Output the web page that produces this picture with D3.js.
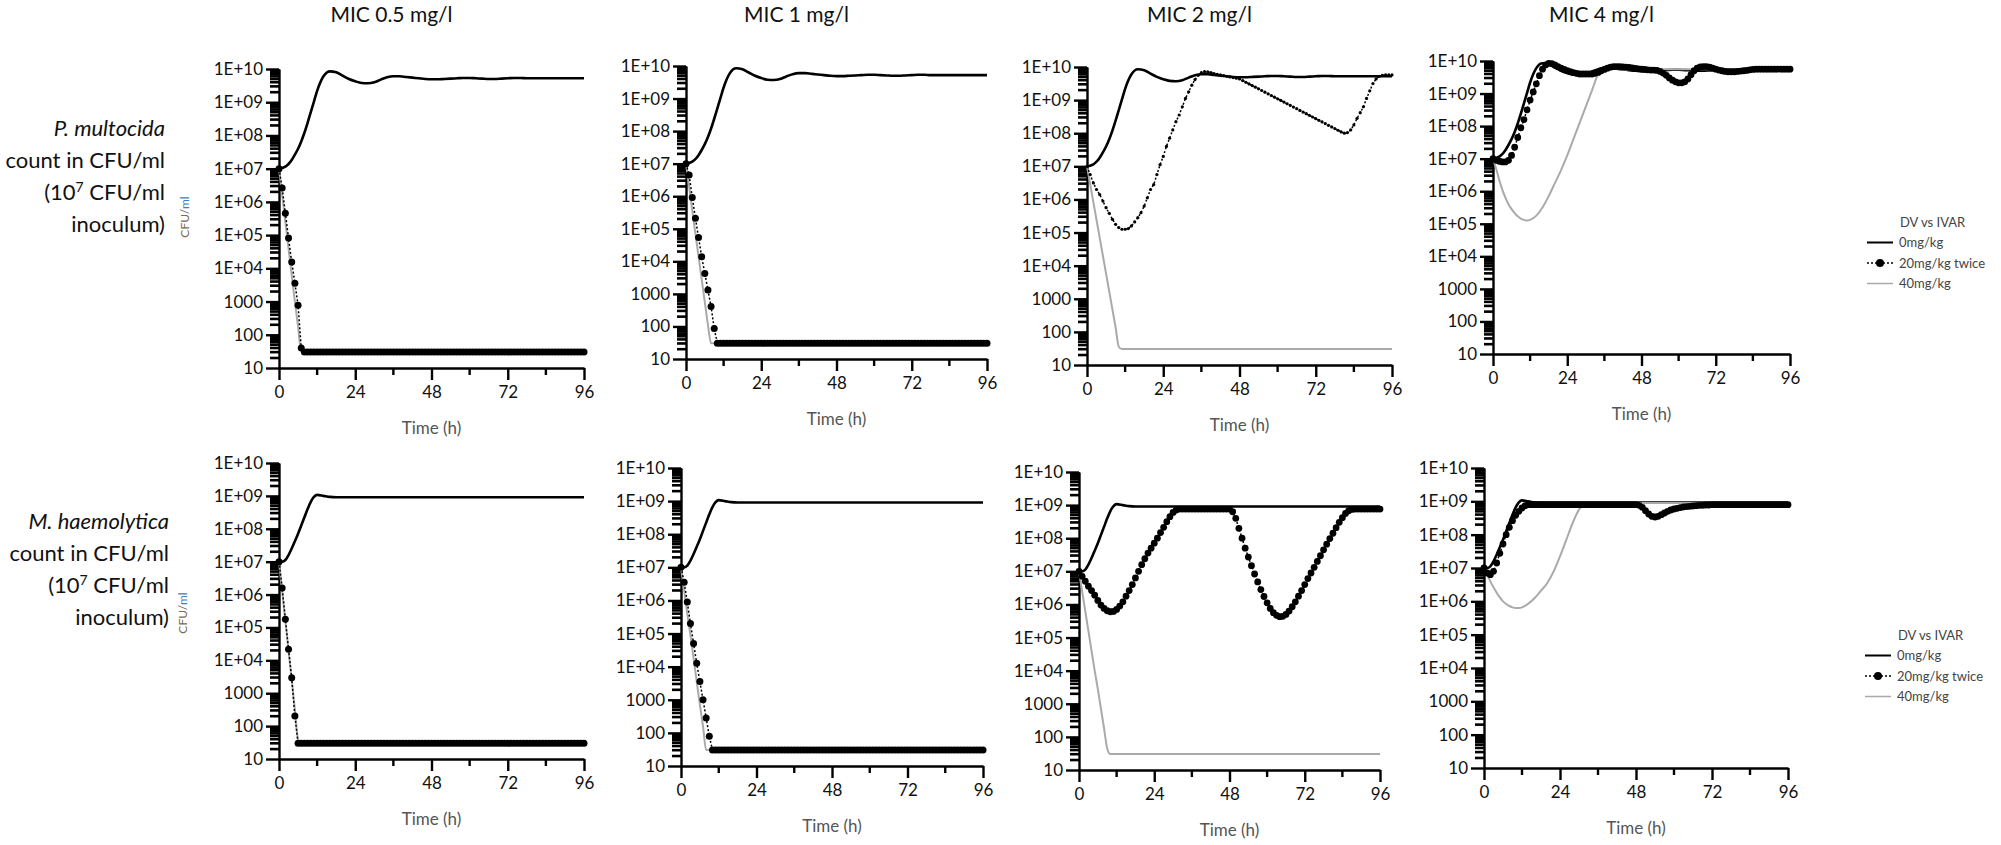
<!DOCTYPE html>
<html>
<head>
<meta charset="utf-8">
<script src="https://cdn.jsdelivr.net/npm/d3@7"></script>
<style>
  body { margin: 0; background: #fff; }
  svg { display: block; font-family: Lato, "Open Sans", sans-serif; }
</style>
</head>
<body>
<div id="chart"></div>
<script>
// Bacterial counts per panel, as log10 CFU/ml.
// Continuous curves (0 and 40 mg/kg) on a coarse time grid,
// the 20 mg/kg twice series on the hourly marker grid.

const micTitles = ["MIC 0.5 mg/l", "MIC 1 mg/l", "MIC 2 mg/l", "MIC 4 mg/l"];
const species = ["P. multocida", "M. haemolytica"];
const legendTitle = "DV vs IVAR";
const seriesNames = ["0mg/kg", "20mg/kg twice", "40mg/kg"];
const xTicks = [0, 24, 48, 72, 96];
const xMinorTicks = [12, 36, 60, 84];
const yTicks = [10, 100, 1000, 1e4, 1e5, 1e6, 1e7, 1e8, 1e9, 1e10];
const yTickLabels = ["10", "100", "1000", "1E+04", "1E+05", "1E+06", "1E+07", "1E+08", "1E+09", "1E+10"];

const lineHours = [0, 1, 2, 3, 4, 5, 6, 7, 8, 9, 10, 11, 12,
  14, 16, 18, 20, 22, 24, 26, 28, 30, 32, 34, 36,
  38, 40, 42, 44, 46, 48, 50, 52, 54, 56, 58, 60,
  62, 64, 66, 68, 70, 72, 74, 76, 78, 80, 82, 84, 86, 88, 90, 92, 94, 96];
const hours = d3.range(0, 97);

// growth controls (0 mg/kg)
const pmCtrl = [7.0, 7.02, 7.06, 7.14, 7.26, 7.42, 7.6, 7.82, 8.08, 8.38, 8.7, 9.02, 9.34,
  9.78, 9.93, 9.9, 9.8, 9.7, 9.63, 9.58, 9.57, 9.6, 9.68, 9.75, 9.78,
  9.78, 9.76, 9.74, 9.72, 9.7, 9.69, 9.69, 9.7, 9.71, 9.72, 9.73, 9.73,
  9.72, 9.71, 9.7, 9.7, 9.71, 9.72, 9.73, 9.73, 9.72, 9.72, 9.72, 9.72, 9.72, 9.72, 9.72, 9.72, 9.72, 9.72];
const mhCtrl = [7.0, 7.0, 7.05, 7.2, 7.4, 7.62, 7.85, 8.1, 8.35, 8.6, 8.82, 8.97, 9.03,
  9.0, 8.97, 8.96, 8.96, 8.96, 8.96, 8.96, 8.96, 8.96, 8.96, 8.96, 8.96,
  8.96, 8.96, 8.96, 8.96, 8.96, 8.96, 8.96, 8.96, 8.96, 8.96, 8.96, 8.96,
  8.96, 8.96, 8.96, 8.96, 8.96, 8.96, 8.96, 8.96, 8.96, 8.96, 8.96, 8.96, 8.96, 8.96, 8.96, 8.96, 8.96, 8.96];

// 40 mg/kg
const pm40Mic05 = [7.0, 6.2, 5.4, 4.6, 3.8, 3.0, 2.25, 1.48, 1.48, 1.48, 1.48, 1.48, 1.48,
  1.48, 1.48, 1.48, 1.48, 1.48, 1.48, 1.48, 1.48, 1.48, 1.48, 1.48, 1.48,
  1.48, 1.48, 1.48, 1.48, 1.48, 1.48, 1.48, 1.48, 1.48, 1.48, 1.48, 1.48,
  1.48, 1.48, 1.48, 1.48, 1.48, 1.48, 1.48, 1.48, 1.48, 1.48, 1.48, 1.48, 1.48, 1.48, 1.48, 1.48, 1.48, 1.48];
const pm40Mic1 = [7.0, 6.3, 5.55, 4.85, 4.15, 3.45, 2.75, 2.05, 1.48, 1.48, 1.48, 1.48, 1.48,
  1.48, 1.48, 1.48, 1.48, 1.48, 1.48, 1.48, 1.48, 1.48, 1.48, 1.48, 1.48,
  1.48, 1.48, 1.48, 1.48, 1.48, 1.48, 1.48, 1.48, 1.48, 1.48, 1.48, 1.48,
  1.48, 1.48, 1.48, 1.48, 1.48, 1.48, 1.48, 1.48, 1.48, 1.48, 1.48, 1.48, 1.48, 1.48, 1.48, 1.48, 1.48, 1.48];
const pm40Mic2 = [7.0, 6.46, 5.92, 5.38, 4.84, 4.3, 3.76, 3.22, 2.68, 2.14, 1.55, 1.48, 1.48,
  1.48, 1.48, 1.48, 1.48, 1.48, 1.48, 1.48, 1.48, 1.48, 1.48, 1.48, 1.48,
  1.48, 1.48, 1.48, 1.48, 1.48, 1.48, 1.48, 1.48, 1.48, 1.48, 1.48, 1.48,
  1.48, 1.48, 1.48, 1.48, 1.48, 1.48, 1.48, 1.48, 1.48, 1.48, 1.48, 1.48, 1.48, 1.48, 1.48, 1.48, 1.48, 1.48];
const pm40Mic4 = [7.0, 6.7, 6.35, 6.05, 5.8, 5.6, 5.45, 5.33, 5.23, 5.16, 5.12, 5.1, 5.12,
  5.25, 5.5, 5.85, 6.25, 6.65, 7.1, 7.6, 8.1, 8.6, 9.1, 9.6, 9.78,
  9.78, 9.76, 9.74, 9.72, 9.72, 9.73, 9.74, 9.75, 9.75, 9.75, 9.75, 9.75,
  9.75, 9.75, 9.75, 9.75, 9.75, 9.75, 9.75, 9.75, 9.75, 9.75, 9.75, 9.75, 9.75, 9.75, 9.75, 9.75, 9.75, 9.75];
const mh40Mic05 = [7.0, 6.1, 5.2, 4.3, 3.4, 2.5, 1.6, 1.48, 1.48, 1.48, 1.48, 1.48, 1.48,
  1.48, 1.48, 1.48, 1.48, 1.48, 1.48, 1.48, 1.48, 1.48, 1.48, 1.48, 1.48,
  1.48, 1.48, 1.48, 1.48, 1.48, 1.48, 1.48, 1.48, 1.48, 1.48, 1.48, 1.48,
  1.48, 1.48, 1.48, 1.48, 1.48, 1.48, 1.48, 1.48, 1.48, 1.48, 1.48, 1.48, 1.48, 1.48, 1.48, 1.48, 1.48, 1.48];
const mh40Mic1 = [7.0, 6.3, 5.6, 4.95, 4.25, 3.55, 2.85, 2.2, 1.48, 1.48, 1.48, 1.48, 1.48,
  1.48, 1.48, 1.48, 1.48, 1.48, 1.48, 1.48, 1.48, 1.48, 1.48, 1.48, 1.48,
  1.48, 1.48, 1.48, 1.48, 1.48, 1.48, 1.48, 1.48, 1.48, 1.48, 1.48, 1.48,
  1.48, 1.48, 1.48, 1.48, 1.48, 1.48, 1.48, 1.48, 1.48, 1.48, 1.48, 1.48, 1.48, 1.48, 1.48, 1.48, 1.48, 1.48];
const mh40Mic2 = [7.0, 6.4, 5.8, 5.2, 4.6, 4.0, 3.45, 2.85, 2.25, 1.65, 1.48, 1.48, 1.48,
  1.48, 1.48, 1.48, 1.48, 1.48, 1.48, 1.48, 1.48, 1.48, 1.48, 1.48, 1.48,
  1.48, 1.48, 1.48, 1.48, 1.48, 1.48, 1.48, 1.48, 1.48, 1.48, 1.48, 1.48,
  1.48, 1.48, 1.48, 1.48, 1.48, 1.48, 1.48, 1.48, 1.48, 1.48, 1.48, 1.48, 1.48, 1.48, 1.48, 1.48, 1.48, 1.48];
const mh40Mic4 = [7.0, 6.8, 6.6, 6.42, 6.26, 6.12, 6.0, 5.92, 5.86, 5.82, 5.8, 5.8, 5.82,
  5.93, 6.1, 6.32, 6.55, 6.9, 7.35, 7.85, 8.35, 8.75, 8.9, 8.93, 8.95,
  8.95, 8.95, 8.95, 8.95, 8.95, 8.95, 8.95, 8.95, 8.95, 8.95, 8.95, 8.95,
  8.95, 8.95, 8.95, 8.95, 8.95, 8.95, 8.95, 8.95, 8.95, 8.95, 8.95, 8.95, 8.95, 8.95, 8.95, 8.95, 8.95, 8.95];

// 20 mg/kg twice, hourly 0..96
const pm20Mic05 = [
  7.0, 6.42, 5.66, 4.91, 4.19, 3.55, 2.89, 1.6, 1.48, 1.48,
  1.48, 1.48, 1.48, 1.48, 1.48, 1.48, 1.48, 1.48, 1.48, 1.48,
  1.48, 1.48, 1.48, 1.48, 1.48, 1.48, 1.48, 1.48, 1.48, 1.48,
  1.48, 1.48, 1.48, 1.48, 1.48, 1.48, 1.48, 1.48, 1.48, 1.48,
  1.48, 1.48, 1.48, 1.48, 1.48, 1.48, 1.48, 1.48, 1.48, 1.48,
  1.48, 1.48, 1.48, 1.48, 1.48, 1.48, 1.48, 1.48, 1.48, 1.48,
  1.48, 1.48, 1.48, 1.48, 1.48, 1.48, 1.48, 1.48, 1.48, 1.48,
  1.48, 1.48, 1.48, 1.48, 1.48, 1.48, 1.48, 1.48, 1.48, 1.48,
  1.48, 1.48, 1.48, 1.48, 1.48, 1.48, 1.48, 1.48, 1.48, 1.48,
  1.48, 1.48, 1.48, 1.48, 1.48, 1.48, 1.48];
const pm20Mic1 = [
  7.0, 6.65, 5.96, 5.32, 4.73, 4.14, 3.63, 3.12, 2.61, 1.94,
  1.48, 1.48, 1.48, 1.48, 1.48, 1.48, 1.48, 1.48, 1.48, 1.48,
  1.48, 1.48, 1.48, 1.48, 1.48, 1.48, 1.48, 1.48, 1.48, 1.48,
  1.48, 1.48, 1.48, 1.48, 1.48, 1.48, 1.48, 1.48, 1.48, 1.48,
  1.48, 1.48, 1.48, 1.48, 1.48, 1.48, 1.48, 1.48, 1.48, 1.48,
  1.48, 1.48, 1.48, 1.48, 1.48, 1.48, 1.48, 1.48, 1.48, 1.48,
  1.48, 1.48, 1.48, 1.48, 1.48, 1.48, 1.48, 1.48, 1.48, 1.48,
  1.48, 1.48, 1.48, 1.48, 1.48, 1.48, 1.48, 1.48, 1.48, 1.48,
  1.48, 1.48, 1.48, 1.48, 1.48, 1.48, 1.48, 1.48, 1.48, 1.48,
  1.48, 1.48, 1.48, 1.48, 1.48, 1.48, 1.48];
const pm20Mic2 = [
  7.0, 6.75, 6.5, 6.3, 6.15, 5.95, 5.75, 5.58, 5.4, 5.25,
  5.15, 5.1, 5.1, 5.12, 5.2, 5.32, 5.45, 5.6, 5.8, 6.05,
  6.3, 6.45, 6.75, 7.05, 7.3, 7.6, 7.85, 8.1, 8.35, 8.55,
  8.8, 9.05, 9.25, 9.45, 9.62, 9.75, 9.83, 9.86, 9.85, 9.83,
  9.8, 9.78, 9.76, 9.74, 9.72, 9.7, 9.68, 9.66, 9.64, 9.59,
  9.54, 9.49, 9.44, 9.39, 9.34, 9.29, 9.24, 9.19, 9.14, 9.09,
  9.04, 8.99, 8.94, 8.89, 8.84, 8.79, 8.74, 8.69, 8.64, 8.59,
  8.54, 8.49, 8.44, 8.39, 8.34, 8.29, 8.24, 8.19, 8.14, 8.09,
  8.04, 8.0, 8.02, 8.1, 8.25, 8.45, 8.62, 8.8, 9.05, 9.28,
  9.5, 9.64, 9.72, 9.75, 9.76, 9.76, 9.76];
const pm20Mic4 = [
  7.0, 6.95, 6.92, 6.9, 6.9, 6.95, 7.1, 7.35, 7.65, 7.95,
  8.2, 8.5, 8.8, 9.05, 9.3, 9.55, 9.75, 9.88, 9.93, 9.92,
  9.88, 9.83, 9.78, 9.74, 9.7, 9.67, 9.64, 9.62, 9.6, 9.6,
  9.6, 9.6, 9.6, 9.62, 9.65, 9.7, 9.74, 9.78, 9.81, 9.83,
  9.83, 9.83, 9.82, 9.81, 9.8, 9.79, 9.77, 9.76, 9.75, 9.74,
  9.73, 9.72, 9.72, 9.71, 9.68, 9.63, 9.56, 9.48, 9.41, 9.36,
  9.33, 9.33, 9.36, 9.45, 9.58, 9.7, 9.78, 9.82, 9.83, 9.83,
  9.81, 9.78, 9.75, 9.72, 9.7, 9.68, 9.67, 9.67, 9.67, 9.68,
  9.69, 9.7, 9.71, 9.73, 9.74, 9.75, 9.75, 9.75, 9.75, 9.75,
  9.75, 9.75, 9.75, 9.75, 9.75, 9.75, 9.75];
const mh20Mic05 = [
  7.0, 6.2, 5.25, 4.34, 3.47, 2.31, 1.48, 1.48, 1.48, 1.48,
  1.48, 1.48, 1.48, 1.48, 1.48, 1.48, 1.48, 1.48, 1.48, 1.48,
  1.48, 1.48, 1.48, 1.48, 1.48, 1.48, 1.48, 1.48, 1.48, 1.48,
  1.48, 1.48, 1.48, 1.48, 1.48, 1.48, 1.48, 1.48, 1.48, 1.48,
  1.48, 1.48, 1.48, 1.48, 1.48, 1.48, 1.48, 1.48, 1.48, 1.48,
  1.48, 1.48, 1.48, 1.48, 1.48, 1.48, 1.48, 1.48, 1.48, 1.48,
  1.48, 1.48, 1.48, 1.48, 1.48, 1.48, 1.48, 1.48, 1.48, 1.48,
  1.48, 1.48, 1.48, 1.48, 1.48, 1.48, 1.48, 1.48, 1.48, 1.48,
  1.48, 1.48, 1.48, 1.48, 1.48, 1.48, 1.48, 1.48, 1.48, 1.48,
  1.48, 1.48, 1.48, 1.48, 1.48, 1.48, 1.48];
const mh20Mic1 = [
  7.0, 6.55, 5.95, 5.3, 4.7, 4.1, 3.55, 3.0, 2.45, 1.9,
  1.48, 1.48, 1.48, 1.48, 1.48, 1.48, 1.48, 1.48, 1.48, 1.48,
  1.48, 1.48, 1.48, 1.48, 1.48, 1.48, 1.48, 1.48, 1.48, 1.48,
  1.48, 1.48, 1.48, 1.48, 1.48, 1.48, 1.48, 1.48, 1.48, 1.48,
  1.48, 1.48, 1.48, 1.48, 1.48, 1.48, 1.48, 1.48, 1.48, 1.48,
  1.48, 1.48, 1.48, 1.48, 1.48, 1.48, 1.48, 1.48, 1.48, 1.48,
  1.48, 1.48, 1.48, 1.48, 1.48, 1.48, 1.48, 1.48, 1.48, 1.48,
  1.48, 1.48, 1.48, 1.48, 1.48, 1.48, 1.48, 1.48, 1.48, 1.48,
  1.48, 1.48, 1.48, 1.48, 1.48, 1.48, 1.48, 1.48, 1.48, 1.48,
  1.48, 1.48, 1.48, 1.48, 1.48, 1.48, 1.48];
const mh20Mic2 = [
  7.0, 6.85, 6.7, 6.55, 6.42, 6.28, 6.12, 5.98, 5.88, 5.81,
  5.78, 5.79, 5.85, 5.95, 6.08, 6.25, 6.42, 6.6, 6.8, 7.0,
  7.2, 7.38, 7.55, 7.7, 7.85, 8.0, 8.17, 8.33, 8.5, 8.65,
  8.78, 8.85, 8.88, 8.88, 8.88, 8.88, 8.88, 8.88, 8.88, 8.88,
  8.88, 8.88, 8.88, 8.88, 8.88, 8.88, 8.88, 8.88, 8.88, 8.8,
  8.6, 8.3, 8.0, 7.7, 7.43, 7.17, 6.92, 6.68, 6.45, 6.24,
  6.05, 5.88, 5.75, 5.67, 5.63, 5.64, 5.7, 5.8, 5.93, 6.08,
  6.25, 6.42, 6.6, 6.78, 6.95, 7.12, 7.3, 7.47, 7.65, 7.82,
  7.99, 8.15, 8.32, 8.48, 8.62, 8.75, 8.83, 8.87, 8.88, 8.88,
  8.88, 8.88, 8.88, 8.88, 8.88, 8.88, 8.88];
const mh20Mic4 = [
  7.0, 6.85, 6.8, 6.9, 7.15, 7.44, 7.72, 8.0, 8.22, 8.42,
  8.58, 8.7, 8.8, 8.87, 8.9, 8.9, 8.9, 8.9, 8.9, 8.9,
  8.9, 8.9, 8.9, 8.9, 8.9, 8.9, 8.9, 8.9, 8.9, 8.9,
  8.9, 8.9, 8.9, 8.9, 8.9, 8.9, 8.9, 8.9, 8.9, 8.9,
  8.9, 8.9, 8.9, 8.9, 8.9, 8.9, 8.9, 8.9, 8.9, 8.88,
  8.82, 8.72, 8.62, 8.55, 8.53, 8.55, 8.6, 8.65, 8.7, 8.74,
  8.77, 8.79, 8.81, 8.83, 8.84, 8.85, 8.86, 8.87, 8.88, 8.88,
  8.89, 8.89, 8.9, 8.9, 8.9, 8.9, 8.9, 8.9, 8.9, 8.9,
  8.9, 8.9, 8.9, 8.9, 8.9, 8.9, 8.9, 8.9, 8.9, 8.9,
  8.9, 8.9, 8.9, 8.9, 8.9, 8.9, 8.9];

// panel layout: pixel frame of each plot area
const panels = [
  { row: 0, col: 0, ctrl: pmCtrl, d20: pm20Mic05, d40: pm40Mic05, x0: 279, x1: 584, yT: 69, yB: 368, r: 3.5 },
  { row: 0, col: 1, ctrl: pmCtrl, d20: pm20Mic1, d40: pm40Mic1, x0: 686, x1: 987, yT: 66, yB: 359, r: 3.5 },
  { row: 0, col: 2, ctrl: pmCtrl, d20: pm20Mic2, d40: pm40Mic2, x0: 1087, x1: 1392, yT: 67, yB: 365, r: 1.6 },
  { row: 0, col: 3, ctrl: pmCtrl, d20: pm20Mic4, d40: pm40Mic4, x0: 1493, x1: 1790, yT: 61, yB: 354, r: 3.4 },
  { row: 1, col: 0, ctrl: mhCtrl, d20: mh20Mic05, d40: mh40Mic05, x0: 279, x1: 584, yT: 463, yB: 759, r: 3.5 },
  { row: 1, col: 1, ctrl: mhCtrl, d20: mh20Mic1, d40: mh40Mic1, x0: 681, x1: 983, yT: 468, yB: 766, r: 3.5 },
  { row: 1, col: 2, ctrl: mhCtrl, d20: mh20Mic2, d40: mh40Mic2, x0: 1079, x1: 1380, yT: 472, yB: 770, r: 3.4 },
  { row: 1, col: 3, ctrl: mhCtrl, d20: mh20Mic4, d40: mh40Mic4, x0: 1484, x1: 1788, yT: 468, yB: 768, r: 3.4 }
];

const yMinor = [];
for (let k = 1; k < 10; k++) for (let m = 2; m < 10; m++) yMinor.push(m * Math.pow(10, k));

const width = 2001, height = 845;
const svg = d3.select("#chart").append("svg")
  .attr("width", width)
  .attr("height", height);
svg.append("rect").attr("width", width).attr("height", height).attr("fill", "#fff");

function drawPanel(p) {
  const x = d3.scaleLinear().domain([0, 96]).range([p.x0, p.x1]);
  const y = d3.scaleLog().domain([10, 1e10]).range([p.yB, p.yT]);
  const g = svg.append("g");

  // minor log ticks on the y axis (dense ladder beside the axis)
  g.append("g")
    .selectAll("line")
    .data(yMinor)
    .join("line")
    .attr("x1", p.x0 - 9)
    .attr("x2", p.x0 + 1)
    .attr("y1", d => y(d))
    .attr("y2", d => y(d))
    .attr("stroke", "#000")
    .attr("stroke-width", 2.6);

  const yAxis = g.append("g")
    .attr("transform", `translate(${p.x0},0)`)
    .call(d3.axisLeft(y).tickValues(yTicks).tickSize(13).tickSizeOuter(0).tickPadding(3)
      .tickFormat((d, i) => yTickLabels[i]));

  // minor x ticks then major x axis
  g.append("g")
    .selectAll("line")
    .data(xMinorTicks)
    .join("line")
    .attr("x1", d => x(d))
    .attr("x2", d => x(d))
    .attr("y1", p.yB)
    .attr("y2", p.yB + 7)
    .attr("stroke", "#000")
    .attr("stroke-width", 2.4);

  const xAxis = g.append("g")
    .attr("transform", `translate(0,${p.yB})`)
    .call(d3.axisBottom(x).tickValues(xTicks).tickSize(12).tickSizeOuter(0).tickPadding(6));

  [yAxis, xAxis].forEach(ax => {
    ax.select(".domain").attr("stroke", "#000").attr("stroke-width", 2.4);
    ax.selectAll(".tick line").attr("stroke", "#000").attr("stroke-width", 2.4);
    ax.selectAll(".tick text")
      .attr("fill", "#111")
      .style("font-family", "Lato, 'Liberation Sans', sans-serif")
      .style("font-size", "17px");
  });

  g.append("text")
    .attr("x", (p.x0 + p.x1) / 2)
    .attr("y", p.yB + 66)
    .attr("text-anchor", "middle")
    .attr("fill", "#555")
    .style("font-size", "17px")
    .text("Time (h)");

  const smooth = d3.line()
    .x((d, i) => x(lineHours[i]))
    .y(d => y(Math.pow(10, d)))
    .curve(d3.curveMonotoneX);
  const hourly = d3.line()
    .x((d, i) => x(hours[i]))
    .y(d => y(Math.pow(10, d)));

  g.append("path")
    .attr("d", smooth(p.ctrl))
    .attr("fill", "none")
    .attr("stroke", "#000")
    .attr("stroke-width", 2.6);

  g.append("path")
    .attr("d", smooth(p.d40))
    .attr("fill", "none")
    .attr("stroke", "#aaaaaa")
    .attr("stroke-width", 2);

  g.append("path")
    .attr("d", hourly(p.d20))
    .attr("fill", "none")
    .attr("stroke", "#000")
    .attr("stroke-width", 1.5)
    .attr("stroke-dasharray", "2,2");

  g.selectAll("circle.dose20")
    .data(p.d20)
    .join("circle")
    .attr("class", "dose20")
    .attr("cx", (d, i) => x(hours[i]))
    .attr("cy", d => y(Math.pow(10, d)))
    .attr("r", p.r)
    .attr("fill", "#000");

  // column title (top row only)
  if (p.row === 0) {
    svg.append("text")
      .attr("x", (p.x0 + p.x1) / 2 - 40)
      .attr("y", 22)
      .attr("text-anchor", "middle")
      .attr("fill", "#111")
      .style("font-size", "21px")
      .text(micTitles[p.col]);
  }
}

panels.forEach(drawPanel);

// row labels
const rowLabelPos = [
  { x: 165, y: 136, cfuX: 185, cfuY: 217 },
  { x: 169, y: 529, cfuX: 183, cfuY: 613 }
];
rowLabelPos.forEach((pos, r) => {
  const lab = svg.append("g").attr("fill", "#111").style("font-size", "22px");
  lab.append("text").attr("x", pos.x).attr("y", pos.y).attr("text-anchor", "end")
    .style("font-style", "italic").text(species[r]);
  lab.append("text").attr("x", pos.x).attr("y", pos.y + 32).attr("text-anchor", "end")
    .text("count in CFU/ml");
  const t3 = lab.append("text").attr("x", pos.x).attr("y", pos.y + 64).attr("text-anchor", "end");
  t3.append("tspan").text("(10");
  t3.append("tspan").attr("dy", -8).style("font-size", "14px").text("7");
  t3.append("tspan").attr("dy", 8).text(" CFU/ml");
  lab.append("text").attr("x", pos.x).attr("y", pos.y + 96).attr("text-anchor", "end")
    .text("inoculum)");

  const cfu = svg.append("text")
    .attr("transform", `translate(${pos.cfuX},${pos.cfuY}) rotate(-90)`)
    .attr("text-anchor", "middle")
    .attr("dy", "0.35em")
    .style("font-size", "12px");
  cfu.append("tspan").attr("fill", "#7a6a50").text("CFU/");
  cfu.append("tspan").attr("fill", "#3d7fc4").text("ml");
});

// legends
function drawLegend(lx, ly, step) {
  const lg = svg.append("g").style("font-size", "13px").attr("fill", "#444");
  lg.append("text").attr("x", lx + 33).attr("y", ly).attr("dy", "0.35em").text(legendTitle);
  seriesNames.forEach((name, i) => {
    const yy = ly + step * (i + 1);
    if (i === 0) {
      lg.append("line").attr("x1", lx).attr("x2", lx + 26).attr("y1", yy).attr("y2", yy)
        .attr("stroke", "#000").attr("stroke-width", 2);
    } else if (i === 1) {
      lg.append("line").attr("x1", lx).attr("x2", lx + 26).attr("y1", yy).attr("y2", yy)
        .attr("stroke", "#000").attr("stroke-width", 1.6).attr("stroke-dasharray", "2,2");
      lg.append("circle").attr("cx", lx + 13).attr("cy", yy).attr("r", 4).attr("fill", "#000");
    } else {
      lg.append("line").attr("x1", lx).attr("x2", lx + 26).attr("y1", yy).attr("y2", yy)
        .attr("stroke", "#aaa").attr("stroke-width", 1.5);
    }
    lg.append("text").attr("x", lx + 32).attr("y", yy).attr("dy", "0.35em").text(name);
  });
}
drawLegend(1867, 222, 20.5);
drawLegend(1865, 635, 20.5);
</script>
</body>
</html>
